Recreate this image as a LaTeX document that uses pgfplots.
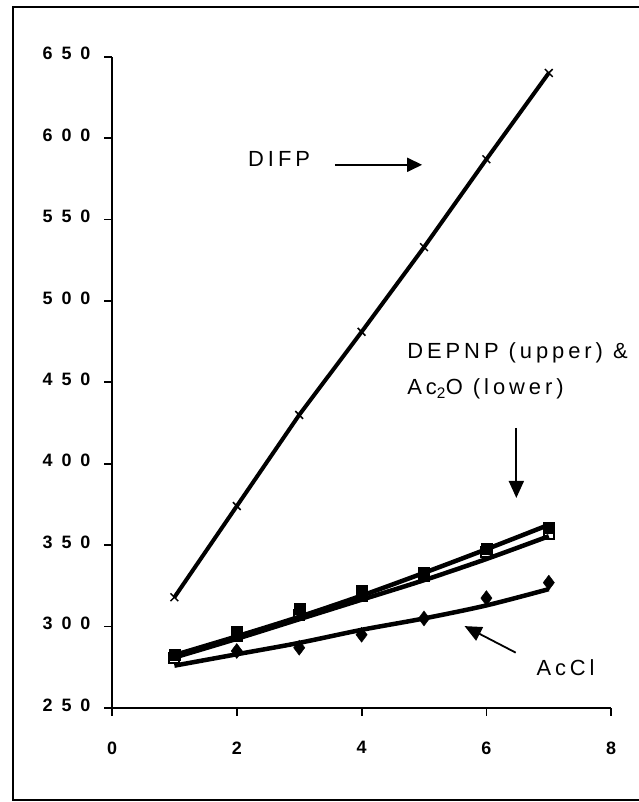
\documentclass[border=0pt]{standalone}
\usepackage{fontspec}
\setmainfont{Liberation Sans}
\newfontfamily\tickfont[LetterSpace=50]{Liberation Sans}
\newfontfamily\annfont[LetterSpace=18]{Liberation Sans}
\usepackage{pgfplots}
\pgfplotsset{compat=1.18}
\usetikzlibrary{arrows.meta}
\begin{document}
\begin{tikzpicture}[x=1bp,y=1bp]
\useasboundingbox (0,0) rectangle (639,802);
\draw[line width=1.5bp] (13,2) rectangle (660,795);
\begin{axis}[
  at={(112bp,94bp)}, anchor=south west,
  scale only axis, width=499.2bp, height=651.3bp,
  xmin=0,xmax=8,ymin=250,ymax=650,
  axis x line*=bottom, axis y line*=left,
  axis line style={line width=2.2bp},
  xtick={0,2,4,6,8}, ytick={250,300,...,650},
  tick align=outside, major tick length=8bp,
  every tick/.style={line width=1.8bp, black},
  xticklabel style={font=\tickfont\bfseries\fontsize{18}{18}\selectfont, yshift=-22bp},
  yticklabel style={font=\tickfont\bfseries\fontsize{18}{18}\selectfont, xshift=-10bp, yshift=3bp},
  /pgf/number format/assume math mode=true,
  clip=false,
]
% DIFP
\addplot[black, line width=4bp, mark=x, mark size=5.5bp, mark options={line width=1.5bp}]
  coordinates {(1,318)(2,374)(3,430)(4,481)(5,533)(6,587)(7,640)};
% DEPNP trend (upper)
\addplot[black, line width=4.5bp, smooth] coordinates {(1,282.5)(2,294)(3,306)(4,319)(5,333)(6,347.5)(7,362.5)};
% Ac2O trend (lower)
\addplot[black, line width=4.5bp, smooth] coordinates {(1,281)(2,292.5)(3,304.5)(4,316.5)(5,328.5)(6,341.5)(7,355.5)};
% DEPNP points
\addplot[black, only marks, mark=square*, mark size=5.5bp]
  coordinates {(1,283)(2,297)(3,311)(4,322)(5,333)(6,348)(7,361)};
% Ac2O points
\addplot[black, only marks, mark=square, mark size=5bp, mark options={line width=2bp, fill=white}]
  coordinates {(1,281)(2,294)(3,307)(4,319)(5,331)(6,346)(7,357)};
% AcCl trend
\addplot[black, line width=4.5bp, smooth] coordinates {(1,276)(2,283)(3,290)(4,298)(5,305)(6,313)(7,323)};
% AcCl points
\addplot[black, only marks, mark=diamond*, mark size=7.5bp]
  coordinates {(2,285)(3,287)(4,295)(5,305)(6,317.5)(7,327)};
% annotations
\node[anchor=base west, font=\annfont\fontsize{22}{22}\selectfont, inner sep=0pt] at (axis cs:2.18,582.5) {DIFP};
\draw[line width=1.8bp, -{Triangle[length=15bp,width=14bp]}] (axis cs:3.57,583.6) -- (axis cs:4.97,583.6);
\node[anchor=base west, font=\annfont\fontsize{22}{22}\selectfont, inner sep=0pt] at (axis cs:4.73,464.4) {DEPNP (upper) \&};
\node[anchor=base west, font=\annfont\fontsize{22}{22}\selectfont, inner sep=0pt] at (axis cs:4.73,442.3) {Ac\textsubscript{2}O (lower)};
\draw[line width=1.8bp, -{Triangle[length=17bp,width=15bp]}] (axis cs:6.48,422) -- (axis cs:6.48,379);
\node[anchor=base west, font=\annfont\fontsize{22}{22}\selectfont, inner sep=0pt] at (axis cs:6.8,270) {AcCl};
\draw[line width=1.8bp, -{Triangle[length=17bp,width=15bp]}] (axis cs:6.47,284) -- (axis cs:5.65,300.3);
\end{axis}
\end{tikzpicture}
\end{document}
